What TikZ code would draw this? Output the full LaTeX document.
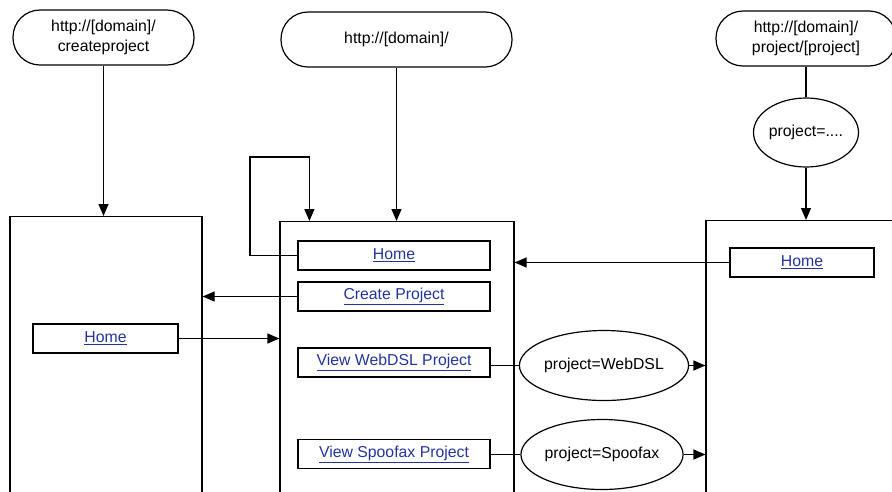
\documentclass[tikz,border=0pt]{standalone}
\usepackage{fontspec}
\setmainfont{Liberation Sans}
\usetikzlibrary{arrows.meta,shapes.geometric}
\definecolor{linkblue}{RGB}{35,52,155}
\newcommand{\lnk}[1]{\textcolor{linkblue}{\underline{#1}}}
\tikzset{
  url/.style={draw,rounded corners=27pt,minimum width=181pt,minimum height=55pt,
    inner sep=0pt,align=center},
  param/.style={draw,ellipse,minimum width=148pt,minimum height=70pt,inner sep=0pt},
  page/.style={draw,anchor=north,minimum height=400pt,inner sep=0pt},
  linkbox/.style={draw,minimum width=192pt,minimum height=29pt,inner sep=0pt},
  arr/.style={-{Triangle[length=12pt,width=10pt]}}
}
\begin{document}
\begin{tikzpicture}[x=1pt,y=-1pt,line width=1.2pt,
    font=\fontsize{15.8}{20}\selectfont]
  \useasboundingbox (0,0) rectangle (892,491);
  \clip (0,0) rectangle (892,491);

  % urls on top
  \node[url] (ucreate) at (103.5,37.5) {http://[domain]/\\createproject};
  \node[url,minimum width=231pt] (uhome) at (396.5,39.5) {http://[domain]/};
  \node[url,minimum width=180pt] (uproject) at (806,38.5) {http://[domain]/\\project/[project]};
  \node[param,minimum width=105pt,minimum height=69pt] (pany) at (806,132.5) {project=....};

  % pages
  \node[page,minimum width=192pt] (lpage) at (106,216) {};
  \node[page,minimum width=234pt] (mpage) at (397,221) {};
  \node[page,minimum width=300pt] (rpage) at (856,220) {};

  % links
  \node[linkbox,minimum width=145pt] (lhome) at (105.5,338.5) {\lnk{Home}};
  \node[linkbox] (mhome) at (394,255.5) {\lnk{Home}};
  \node[linkbox] (mcreate) at (394,296.5) {\lnk{Create Project}};
  \node[linkbox] (mwebdsl) at (394,362.5) {\lnk{View WebDSL Project}};
  \node[linkbox] (mspoofax) at (394,454) {\lnk{View Spoofax Project}};
  \node[linkbox,minimum width=144pt] (rhome) at (802,262.5) {\lnk{Home}};

  \node[param] (pwebdsl) at (604,365.5) {project=WebDSL};
  \node[param,minimum width=144pt] (pspoofax) at (602,454.5) {project=Spoofax};

  % connectors
  \draw[arr] (ucreate) -- (ucreate |- lpage.north);
  \draw[arr] (uhome) -- (uhome |- mpage.north);
  \draw (uproject) -- (pany);
  \draw[arr] (pany) -- (pany |- rpage.north);
  \draw[arr] (mhome.west) -| (250,157) -| ([xshift=30pt]mpage.north west);
  \draw[arr] (mcreate.west) -- (lpage.east |- mcreate.west);
  \draw[arr] (lhome.east) -- (mpage.west |- lhome.east);
  \draw[arr] (rhome.west) -- (mpage.east |- rhome.west);
  \draw (mwebdsl.east |- pwebdsl.west) -- (pwebdsl.west);
  \draw[arr] (pwebdsl.east) -- (rpage.west |- pwebdsl.east);
  \draw (mspoofax.east |- pspoofax.west) -- (pspoofax.west);
  \draw[arr] (pspoofax.east) -- (rpage.west |- pspoofax.east);
\end{tikzpicture}
\end{document}
